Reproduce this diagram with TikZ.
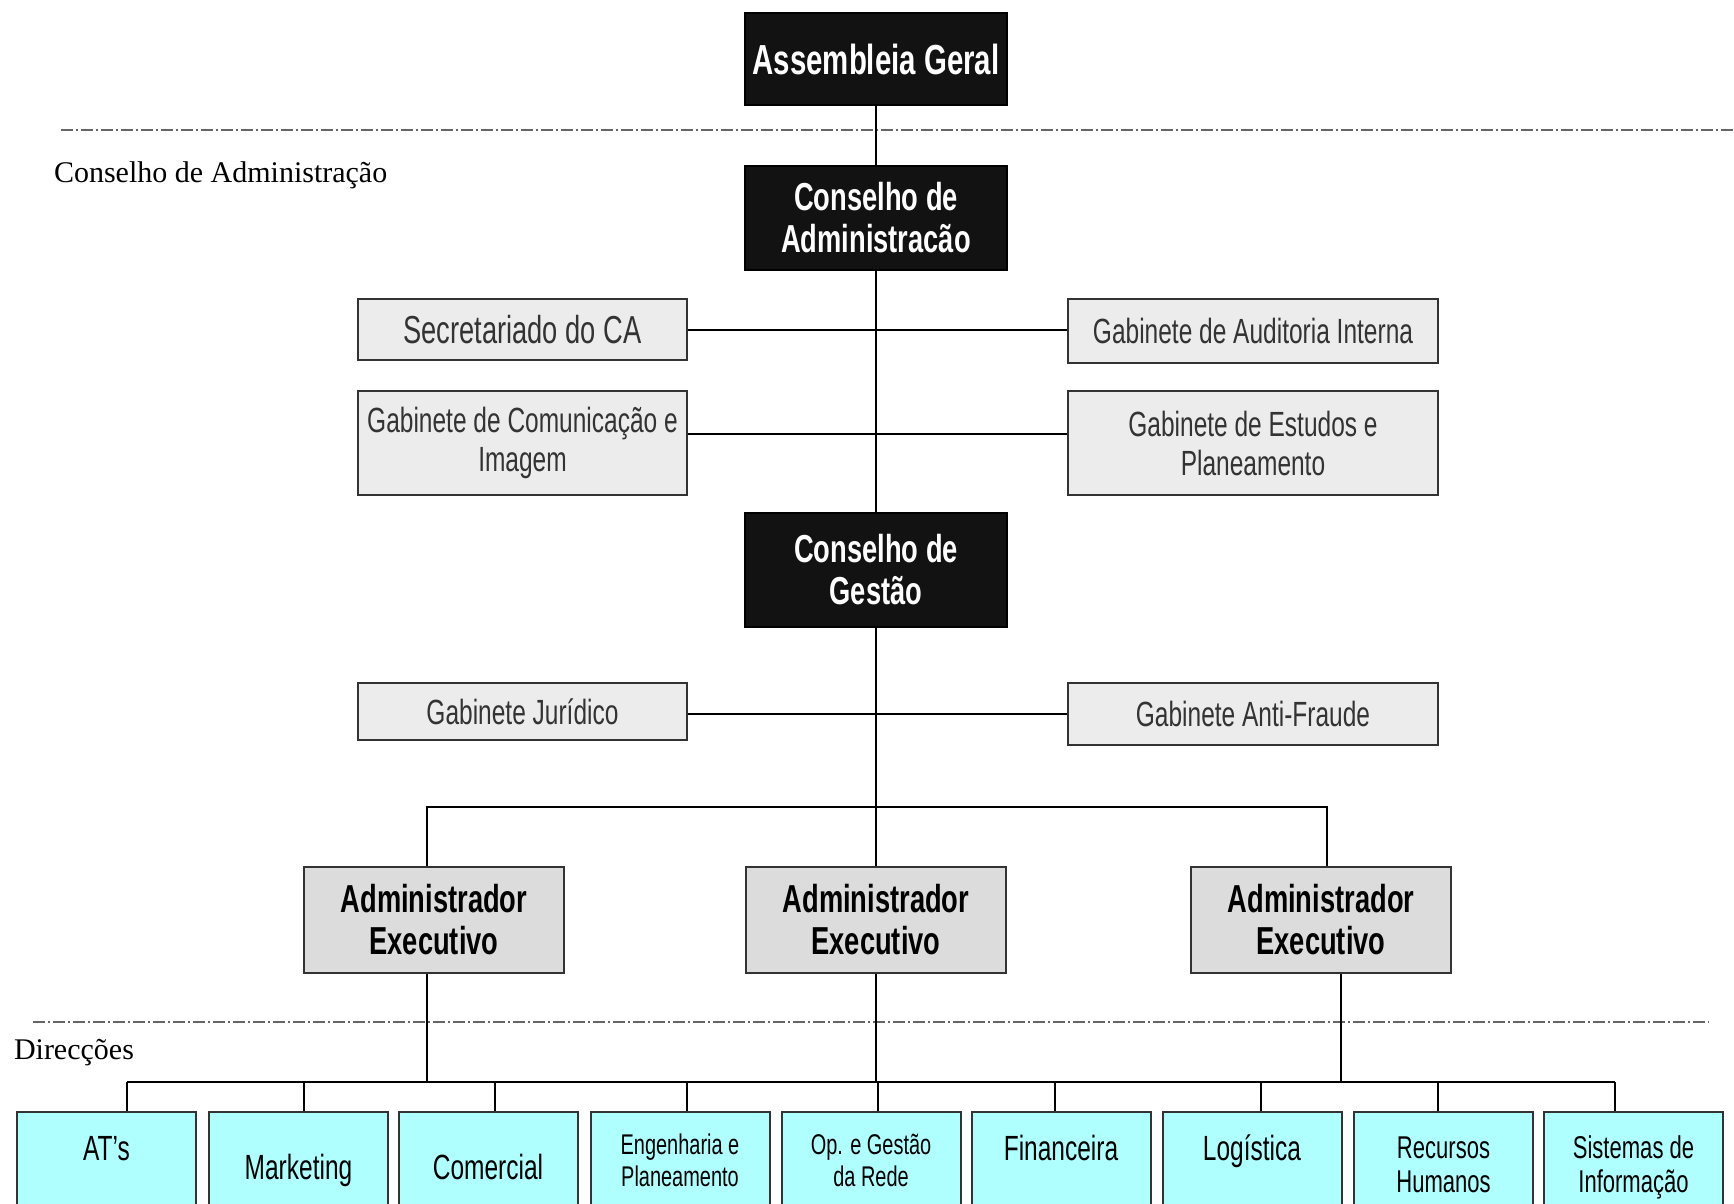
\documentclass[tikz,border=0pt]{standalone}
\usepackage{fontspec}
\setmainfont{Liberation Sans}[FakeStretch=0.7]
\newfontfamily\serifnote{Liberation Serif}
\usetikzlibrary{positioning}
\definecolor{boxgray}{HTML}{ECECEC}
\definecolor{admgray}{HTML}{DCDCDC}
\definecolor{dircyan}{HTML}{B0FFFF}
\definecolor{txtgray}{HTML}{333333}
\newcommand{\dirbig}{\fontsize{35}{39}\selectfont}
\newcommand{\dirmid}{\fontsize{31.5}{34}\selectfont}
\newcommand{\dirsmall}{\fontsize{28.5}{32}\selectfont}

\begin{document}
\begin{tikzpicture}[x=1pt,y=-1pt,line width=2pt,
  blackbox/.style={draw,fill=black!93,text=white,minimum width=262pt,minimum height=#1,inner sep=0pt,align=center,font=\bfseries\fontsize{39}{42}\selectfont},
  officebox/.style={draw=txtgray,fill=boxgray,text=txtgray,inner sep=0pt,align=center,font=\fontsize{35}{39}\selectfont},
  adminbox/.style={draw=txtgray,fill=admgray,minimum width=260pt,minimum height=106pt,inner sep=0pt,align=center,font=\bfseries\fontsize{39}{42}\selectfont},
  dirbox/.style={draw=txtgray,fill=dircyan,anchor=north,minimum width=179pt,inner sep=0pt,align=center,text height=#1,text depth=150pt},
  levelline/.style={draw=black!60,line width=1.5pt,dash pattern=on 12pt off 3pt on 2pt off 3pt},
  sidenote/.style={anchor=west,inner sep=0pt,font=\serifnote\fontsize{30}{32}\selectfont}]
\useasboundingbox (0,0) rectangle (1734,1203);
\clip (0,0) rectangle (1734,1203);
\fill[white] (0,0) rectangle (1734,1203);

\draw[levelline] (61,130) -- (1734,130);
\draw[levelline] (33,1022) -- (1709,1022);
\node[sidenote] (lblca) at (53,175) {Conselho de Administração};
\node[sidenote] (lbldir) at (13,1053) {Direcções};

\node[blackbox=92pt,font=\bfseries\fontsize{42}{44}\selectfont] (ag) at (876,59) {Assembleia Geral};
\node[blackbox=104pt] (ca) at (876,218) {Conselho de\\Administracão};
\node[blackbox=114pt] (cg) at (876,570) {Conselho de\\Gestão};

\node[officebox,minimum width=329pt,minimum height=61pt,font=\fontsize{39}{42}\selectfont] (sec) at (522.5,329.5) {Secretariado do CA};
\node[officebox,minimum width=370pt,minimum height=64pt] (aud) at (1253,331) {Gabinete de Auditoria Interna};
\node[officebox,minimum width=329pt,minimum height=104pt] (com) at (522.5,443) {Gabinete de Comunicação e\\Imagem};
\node[officebox,minimum width=370pt,minimum height=104pt] (est) at (1253,443) {Gabinete de Estudos e\\Planeamento};
\node[officebox,minimum width=329pt,minimum height=57pt] (jur) at (522.5,711.5) {Gabinete Jurídico};
\node[officebox,minimum width=370pt,minimum height=62pt] (antif) at (1253,714) {Gabinete Anti-Fraude};

\node[adminbox] (adm1) at (434,920) {Administrador\\Executivo};
\node[adminbox] (adm2) at (876,920) {Administrador\\Executivo};
\node[adminbox] (adm3) at (1321,920) {Administrador\\Executivo};

\node[dirbox=48pt,font=\dirbig] (ats) at (106.5,1111) {AT’s};
\node[dirbox=67pt,font=\dirbig] (mkt) at (298.5,1111) {Marketing};
\node[dirbox=67pt,font=\dirbig] (comer) at (488,1111) {Comercial};
\node[dirbox=74pt,font=\dirsmall] (eng) at (680,1111) {Engenharia e\\Planeamento};
\node[dirbox=74pt,font=\dirsmall] (opr) at (871,1111) {Op. e Gestão\\da Rede};
\node[dirbox=48pt,font=\dirbig] (fin) at (1061,1111) {Financeira};
\node[dirbox=48pt,font=\dirbig] (logi) at (1252,1111) {Logística};
\node[dirbox=80pt,font=\dirmid] (rh) at (1443.5,1111) {Recursos\\Humanos};
\node[dirbox=80pt,font=\dirmid] (si) at (1633.5,1111) {Sistemas de\\Informação};

\coordinate (hub) at (876,807);
\coordinate (dirbar) at (876,1082);

\path[draw]
(ag) edge (ca)
(ca) edge (cg)
(cg) edge (adm2);
\draw (sec.east) -- (sec.east -| aud.west);
\draw ([yshift=9pt]com.east) -- ([yshift=9pt]est.west);
\draw (antif.west) -- (antif.west -| jur.east);
\draw ([xshift=-7pt]adm1.north) |- (hub) -| ([xshift=6pt]adm3.north);
\draw ([xshift=-7pt]adm1.south) -- ([xshift=-7pt]adm1.south |- dirbar);
\draw (adm2.south) -- (adm2.south |- dirbar);
\draw ([xshift=20pt]adm3.south) -- ([xshift=20pt]adm3.south |- dirbar);
\draw ([xshift=20.5pt]ats.north |- dirbar) -- ([xshift=-18.5pt]si.north |- dirbar);
\foreach \n/\d in {ats/20.5,mkt/5.5,comer/7,eng/7,opr/7,fin/-6,logi/9,rh/-5.5,si/-18.5}
  \draw ([xshift=\d pt]\n.north) -- ([xshift=\d pt]\n.north |- dirbar);
\end{tikzpicture}
\end{document}
